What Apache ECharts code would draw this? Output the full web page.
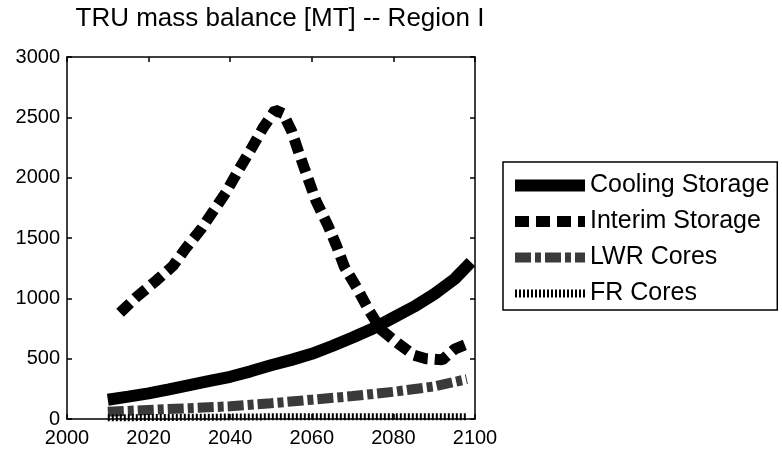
<!DOCTYPE html>
<html>
<head>
<meta charset="utf-8">
<script src="https://cdn.jsdelivr.net/npm/echarts@6/dist/echarts.min.js"></script>
<style>
  html, body { margin: 0; padding: 0; background: #fff; }
  #grafica { width: 782px; height: 456px; }
</style>
</head>
<body>
<div id="grafica"></div>
<script>
// Datos
const aniosCooling = [2010, 2015, 2020, 2025, 2030, 2035, 2040, 2045, 2050, 2055, 2060, 2065, 2070, 2075, 2080, 2085, 2090, 2095, 2099];
const coolingStorage = [160, 185, 212, 245, 280, 315, 350, 395, 445, 490, 540, 605, 675, 750, 840, 930, 1035, 1160, 1300];

const aniosInterim = [2013, 2017, 2022, 2026, 2029, 2033, 2036, 2039, 2042, 2045, 2048, 2051, 2053, 2055, 2057, 2059, 2061, 2064, 2066, 2068, 2071, 2074, 2077, 2081, 2085, 2088, 2092, 2095, 2098];
const interimStorage = [880, 1010, 1150, 1270, 1410, 1580, 1730, 1880, 2060, 2230, 2410, 2560, 2530, 2390, 2190, 2000, 1810, 1600, 1440, 1260, 1090, 900, 740, 630, 530, 500, 490, 580, 620];

const aniosCores = [2010, 2020, 2030, 2040, 2050, 2060, 2070, 2080, 2090, 2098];
const lwrCores = [60, 75, 90, 105, 130, 160, 190, 225, 270, 330];
const frCores = [10, 12, 14, 16, 18, 18, 18, 18, 18, 18];

const ticksX = [2000, 2020, 2040, 2060, 2080, 2100];
const ticksY = [0, 500, 1000, 1500, 2000, 2500, 3000];

const pares = (xs, ys) => xs.map((x, i) => [x, ys[i]]);

const chart = echarts.init(document.getElementById('grafica'));
const fuente = 'Liberation Sans, Arial, sans-serif';

// Eje con marco y ticks hacia dentro (estilo Matlab)
const ejeBase = (extra) => Object.assign({
    type: 'value',
    axisLine: { show: true, onZero: false, lineStyle: { color: '#000', width: 1.5 } },
    axisTick: { show: true, inside: true, length: 5, lineStyle: { color: '#000', width: 1.5 } },
    splitLine: { show: false }
}, extra);

// Sin separador de miles en las etiquetas
const sinComas = (v) => String(v);

// Entrada de leyenda: solo la línea, sin símbolo
const itemLeyenda = (name, width) => ({
    name: name,
    itemStyle: { opacity: 0 },
    lineStyle: { width: width }
});

let option = {
    backgroundColor: '#fff',
    animation: false,
    title: {
        text: 'TRU mass balance [MT] -- Region I',
        left: 275, top: 1, textAlign: 'center',
        textStyle: { fontFamily: fuente, fontSize: 26, fontWeight: 'normal', color: '#000' }
    },
    grid: { left: 67, top: 57, width: 408, height: 362, containLabel: false },
    xAxis: [
        ejeBase({
            min: ticksX[0], max: ticksX[ticksX.length - 1], interval: 20, position: 'bottom',
            axisLabel: { fontFamily: fuente, fontSize: 20, color: '#000', margin: 9, formatter: sinComas }
        }),
        ejeBase({
            min: ticksX[0], max: ticksX[ticksX.length - 1], interval: 20, position: 'top',
            axisLabel: { show: false }
        })
    ],
    yAxis: [
        ejeBase({
            min: ticksY[0], max: ticksY[ticksY.length - 1], interval: 500, position: 'left',
            axisLabel: { fontFamily: fuente, fontSize: 20, color: '#000', margin: 7, formatter: sinComas }
        }),
        ejeBase({
            min: ticksY[0], max: ticksY[ticksY.length - 1], interval: 500, position: 'right',
            axisLabel: { show: false }
        })
    ],
    legend: {
        orient: 'vertical',
        left: 503, top: 162,
        padding: [11, 8, 4, 6],
        itemGap: 11,
        itemWidth: 70, itemHeight: 12,
        borderColor: '#000', borderWidth: 1.5,
        textStyle: { fontFamily: fuente, fontSize: 25, color: '#000' },
        data: [
            itemLeyenda('Cooling Storage', 12),
            itemLeyenda('Interim Storage', 11),
            itemLeyenda('LWR Cores', 10),
            itemLeyenda('FR Cores', 8)
        ]
    },
    series: [
        {
            name: 'Cooling Storage', type: 'line', symbol: 'none',
            lineStyle: { color: '#000', width: 12 },
            itemStyle: { color: '#000' },
            data: pares(aniosCooling, coolingStorage)
        },
        {
            name: 'Interim Storage', type: 'line', symbol: 'none',
            lineStyle: { color: '#000', width: 11, type: [14, 7] },
            itemStyle: { color: '#000' },
            data: pares(aniosInterim, interimStorage)
        },
        {
            name: 'LWR Cores', type: 'line', symbol: 'none',
            lineStyle: { color: '#3a3a3a', width: 10, type: [16, 4, 6, 4] },
            itemStyle: { color: '#3a3a3a' },
            data: pares(aniosCores, lwrCores)
        },
        {
            name: 'FR Cores', type: 'line', symbol: 'none',
            lineStyle: { color: '#000', width: 7, type: [2, 2] },
            itemStyle: { color: '#000' },
            data: pares(aniosCores, frCores)
        }
    ]
};

chart.setOption(option);
</script>
</body>
</html>
